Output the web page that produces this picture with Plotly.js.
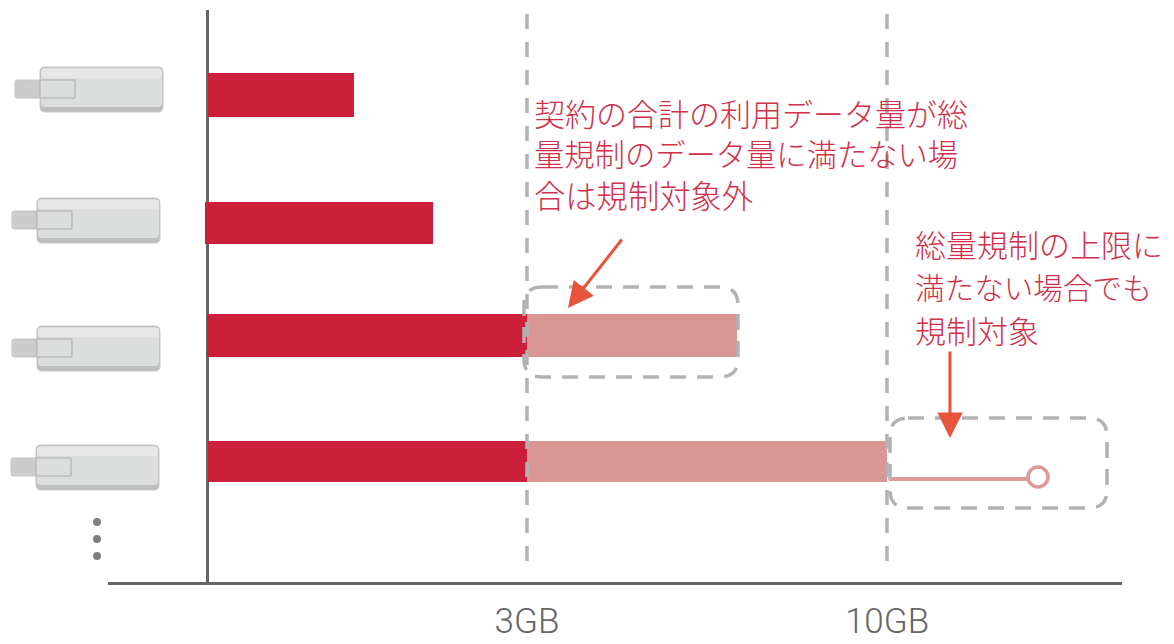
<!DOCTYPE html>
<html><head><meta charset="utf-8">
<script src="https://cdn.plot.ly/plotly-3.0.1.min.js"></script>
<style>html,body{margin:0;padding:0;background:#fff}#c{width:1174px;height:644px}</style>
</head><body><div id="c"></div>
<script>
// Values are in chart units on a drawn (non-linear) scale: 0 at the axis, 320 = 3GB, 680 = 10GB
var rowCentres = [95, 223, 335.5, 461.5];
var rowHeights = [44, 42, 43, 41];
var rowStarts  = [1, -2, 0, 1];
var regulated  = [146, 228, 320, 319];
var excluded   = [0, 0, 210, 360];
var tailX = [682, 823];
var tailY = [479, 479];
var tickValues = [320, 680];
var tickLabels = ['3GB', '10GB'];
var note1 = ['契約の合計の利用データ量が総', '量規制のデータ量に満たない場', '合は規制対象外'];
var note1Y = [112, 153, 194];
var note1Size = [31, 30.3, 31.3];
var note2 = ['総量規制の上限に', '満たない場合でも', '規制対象'];
var note2Y = [243, 286, 329];
var note2Size = [31, 29.6, 31];
var iconX = [40, 37, 37, 36];
var iconY = [67, 198, 326, 445];
var dotsX = [97, 97, 97];
var dotsY = [522, 539, 556];

var L = 108, T = 10, PW = 1014, PH = 572;
function px(v){ return (v - L) / PW; }
function py(v){ return 1 - (v - T) / PH; }
function rr(x0, y0, x1, y1, r){
  var X0=px(x0), X1=px(x1), Y0=py(y0), Y1=py(y1), rx=r/PW, ry=r/PH;
  return 'M'+(X0+rx)+','+Y0+' L'+(X1-rx)+','+Y0+' Q'+X1+','+Y0+' '+X1+','+(Y0-ry)+
    ' L'+X1+','+(Y1+ry)+' Q'+X1+','+Y1+' '+(X1-rx)+','+Y1+
    ' L'+(X0+rx)+','+Y1+' Q'+X0+','+Y1+' '+X0+','+(Y1+ry)+
    ' L'+X0+','+(Y0-ry)+' Q'+X0+','+Y0+' '+(X0+rx)+','+Y0+' Z';
}
function paperPath(path, fill, lineColor, w, dash){
  return {type:'path', xref:'paper', yref:'paper', path:path, fillcolor:fill,
    line:{color:lineColor, width:w, dash:dash||'solid'}, layer:'above'};
}
var shapes = [];
iconX.forEach(function(x, i){
  var y = iconY[i];
  shapes.push(paperPath(rr(x-25, y+13, x+5, y+31, 2), '#cbcccb', '#c4c5c4', 1));
  shapes.push(paperPath(rr(x, y, x+123, y+45, 5), '#bdbfbe', '#c6c7c6', 1));
  shapes.push(paperPath(rr(x+1, y+1, x+122, y+40, 4), '#dcdedd', 'rgba(0,0,0,0)', 0));
  shapes.push(paperPath(rr(x+1, y+2, x+122, y+11, 3), '#e6e7e6', 'rgba(0,0,0,0)', 0));
  shapes.push(paperPath(rr(x, y+13, x+35, y+31, 1), 'rgba(220,222,221,0.9)', '#b9bbba', 1.5));
});
dotsX.forEach(function(x, i){
  shapes.push({type:'circle', xref:'paper', yref:'paper',
    x0:px(x-4), x1:px(x+4), y0:py(dotsY[i]+4), y1:py(dotsY[i]-4),
    fillcolor:'#808080', line:{width:0}});
});
shapes.push(paperPath(rr(524, 287, 738, 377, 18), 'rgba(0,0,0,0)', '#b2b2b2', 3.5, '16px,11px'));
shapes.push(paperPath(rr(890, 418, 1107, 508, 18), 'rgba(0,0,0,0)', '#b2b2b2', 3.5, '16px,11px'));
tickValues.forEach(function(v){
  shapes.push({type:'line', xref:'x', yref:'paper', x0:v, x1:v, y0:py(14), y1:py(572),
    line:{color:'#b2b2b2', width:3.5, dash:'15px,13px'}, layer:'above'});
});

var annotations = [];
var textFont = function(s){ return {family:'"Noto Sans CJK JP", sans-serif', size:s, color:'#d03049', weight:300}; };
note1.forEach(function(t, i){
  annotations.push({xref:'x', yref:'y', x:325, y:note1Y[i], text:t, showarrow:false,
    xanchor:'left', yanchor:'middle', font:textFont(note1Size[i])});
});
note2.forEach(function(t, i){
  annotations.push({xref:'x', yref:'y', x:706, y:note2Y[i], text:t, showarrow:false,
    xanchor:'left', yanchor:'middle', font:textFont(note2Size[i])});
});
[[361, 308, 416, 238], [743, 438, 743, 350]].forEach(function(a){
  annotations.push({xref:'x', yref:'y', axref:'x', ayref:'y', x:a[0], y:a[1], ax:a[2], ay:a[3],
    text:'', showarrow:true, arrowhead:2, arrowsize:1.7, arrowwidth:3, arrowcolor:'#e8533c'});
});

var traces = [
  {type:'bar', orientation:'h', y:rowCentres, x:regulated, base:rowStarts, width:rowHeights,
   marker:{color:'#cc1f3a', line:{width:0}}, hoverinfo:'skip'},
  {type:'bar', orientation:'h', y:rowCentres, x:excluded, base:[0,0,320,320], width:rowHeights,
   marker:{color:'#d99694', line:{width:0}}, hoverinfo:'skip'},
  {type:'scatter', mode:'lines', x:tailX, y:tailY, line:{color:'#dd9a98', width:4}, hoverinfo:'skip'},
  {type:'scatter', mode:'markers', x:[831], y:[477], hoverinfo:'skip',
   marker:{symbol:'circle', size:20, color:'#fff', line:{color:'#dd9a98', width:3.5}}}
];
var layout = {
  width:1174, height:644, showlegend:false, barmode:'overlay',
  paper_bgcolor:'#fff', plot_bgcolor:'#fff',
  margin:{l:L, r:1174-L-PW, t:T, b:644-T-PH, pad:0},
  xaxis:{range:[-99, 915], showgrid:false, zeroline:true, zerolinecolor:'#666', zerolinewidth:3,
    showline:true, linecolor:'#666', linewidth:3, ticks:'', tickvals:tickValues, ticktext:tickLabels,
    tickfont:{family:'Roboto, sans-serif', size:35, color:'#666', weight:300}, ticklabelstandoff:6},
  yaxis:{range:[582, 10], showgrid:false, zeroline:false, showline:false, showticklabels:false, ticks:''},
  shapes:shapes, annotations:annotations
};
Plotly.newPlot('c', traces, layout, {staticPlot:true, displayModeBar:false});
</script></body></html>
